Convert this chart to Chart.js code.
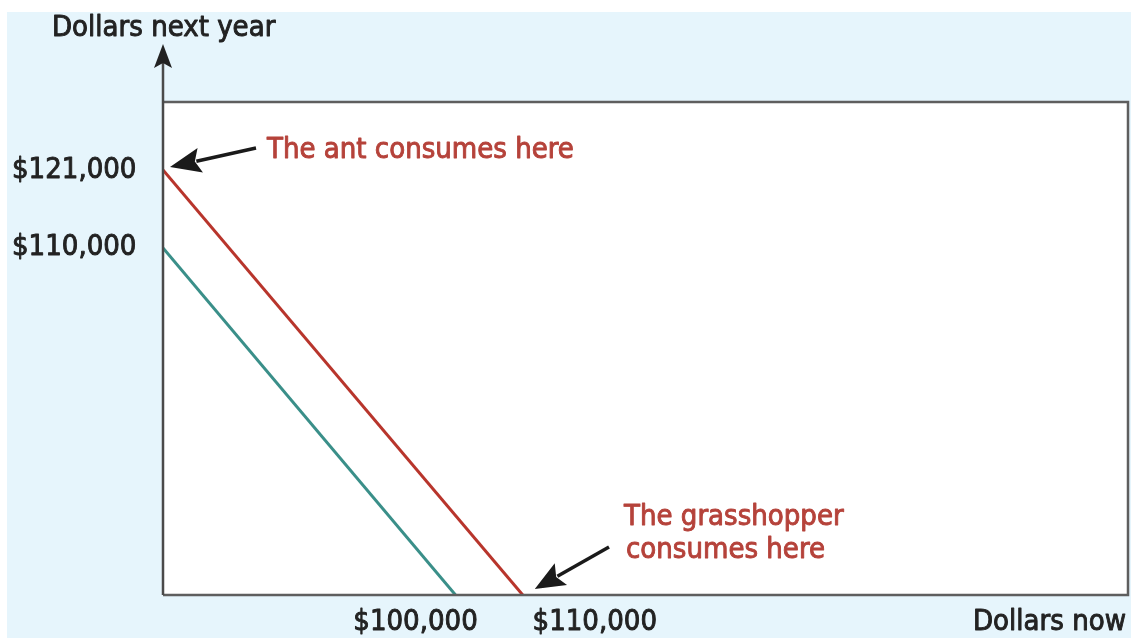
<!DOCTYPE html>
<html>
<head>
<meta charset="utf-8">
<script src="https://cdn.jsdelivr.net/npm/chart.js@4.4.1/dist/chart.umd.min.js"></script>
<style>
  html, body { margin: 0; padding: 0; background: #fff; }
  #wrap { width: 1131px; height: 638px; }
</style>
</head>
<body>
<div id="wrap"><canvas id="chart" width="1131" height="638"></canvas></div>
<script>
// axis ranges (the chart is schematic, origin is not zero)
const xMin = 56500, xMax = 200000;
const yMin = 61000, yMax = 130600;

const xTicks = [100000, 110000];
const yTicks = [110000, 121000];

// red budget line: 121,000 next year ... 110,000 now
const redX = [xMin, 110000];
const redY = [121000, yMin];
// teal budget line: 110,000 next year ... 100,000 now
const tealX = [xMin, 100000];
const tealY = [110000, yMin];

const FONT = '"DejaVu Sans Condensed", "Liberation Sans Narrow", Arial, sans-serif';
const fmt = v => '$' + v.toLocaleString('en-US');

function toPoints(xs, ys) {
    return xs.map((x, i) => ({ x: x, y: ys[i] }));
}

// text a bit heavier than the regular face
function label(ctx, text, x, y) {
    ctx.strokeStyle = ctx.fillStyle;
    ctx.lineWidth = 0.9;
    ctx.lineJoin = 'round';
    ctx.strokeText(text, x, y);
    ctx.fillText(text, x, y);
}

function arrow(ctx, x1, y1, x2, y2, headLen, headW) {
    const ang = Math.atan2(y2 - y1, x2 - x1);
    const c = Math.cos(ang), s = Math.sin(ang);
    const bx = x2 - headLen * c, by = y2 - headLen * s;
    ctx.beginPath();
    ctx.moveTo(x1, y1);
    ctx.lineTo(bx + 4 * c, by + 4 * s);
    ctx.stroke();
    ctx.beginPath();
    ctx.moveTo(x2, y2);
    ctx.lineTo(bx + headW / 2 * s, by - headW / 2 * c);
    ctx.lineTo(x2 - headLen * 0.82 * c, y2 - headLen * 0.82 * s);
    ctx.lineTo(bx - headW / 2 * s, by + headW / 2 * c);
    ctx.closePath();
    ctx.fill();
}

const decor = {
    id: 'decor',
    beforeDraw(chart) {
        const ctx = chart.ctx;
        const a = chart.chartArea;
        ctx.save();
        ctx.fillStyle = '#ffffff';
        ctx.fillRect(0, 0, chart.width, chart.height);
        ctx.fillStyle = '#e6f5fc';
        ctx.fillRect(7, 12, chart.width - 7, chart.height - 12);
        ctx.fillStyle = '#ffffff';
        ctx.fillRect(a.left, a.top, a.right - a.left, a.bottom - a.top);
        ctx.restore();
    },
    afterDatasetsDraw(chart) {
        const ctx = chart.ctx;
        const a = chart.chartArea;
        const xs = chart.scales.x, ys = chart.scales.y;
        ctx.save();

        // frame
        ctx.strokeStyle = '#5e5e5e';
        ctx.lineWidth = 2.5;
        ctx.beginPath();
        ctx.moveTo(a.left, a.top);
        ctx.lineTo(a.right, a.top);
        ctx.lineTo(a.right, a.bottom);
        ctx.lineTo(a.left, a.bottom);
        ctx.stroke();

        // y axis with arrow
        ctx.strokeStyle = '#4a4a4a';
        ctx.fillStyle = '#222';
        ctx.lineWidth = 2.5;
        ctx.beginPath();
        ctx.moveTo(a.left, a.bottom);
        ctx.lineTo(a.left, 62);
        ctx.stroke();
        ctx.beginPath();
        ctx.moveTo(a.left, 44);
        ctx.lineTo(a.left + 9, 68);
        ctx.lineTo(a.left, 63);
        ctx.lineTo(a.left - 9, 68);
        ctx.closePath();
        ctx.fill();

        // axis titles
        ctx.fillStyle = '#222';
        ctx.font = '29px ' + FONT;
        ctx.textBaseline = 'alphabetic';
        ctx.textAlign = 'left';
        label(ctx, 'Dollars next year', 52, 36);
        ctx.textAlign = 'right';
        label(ctx, 'Dollars now', 1126, 630);

        // tick labels
        ctx.textAlign = 'left';
        ctx.textBaseline = 'middle';
        yTicks.forEach(v => label(ctx, fmt(v), 12, ys.getPixelForValue(v)));
        const xOff = [-40, 72];
        ctx.textAlign = 'center';
        ctx.textBaseline = 'alphabetic';
        xTicks.forEach((v, i) => label(ctx, fmt(v), xs.getPixelForValue(v) + xOff[i], 630));

        // annotations
        ctx.fillStyle = '#b5423a';
        ctx.textAlign = 'left';
        label(ctx, 'The ant consumes here', 267, 158);
        label(ctx, 'The grasshopper', 624, 525);
        label(ctx, 'consumes here', 626, 558);

        ctx.strokeStyle = '#1a1a1a';
        ctx.fillStyle = '#1a1a1a';
        ctx.lineWidth = 3.5;
        ctx.lineCap = 'butt';
        const antX = xs.getPixelForValue(redX[0]), antY = ys.getPixelForValue(redY[0]);
        arrow(ctx, 256, 148, antX + 7, antY - 3, 31, 25);
        const ghX = xs.getPixelForValue(redX[1]), ghY = ys.getPixelForValue(redY[1]);
        arrow(ctx, 609, 547, ghX + 12, ghY - 6, 30, 25);

        ctx.restore();
    }
};

new Chart(document.getElementById('chart'), {
    type: 'scatter',
    data: {
        datasets: [{
            label: 'Ant',
            data: toPoints(redX, redY),
            showLine: true,
            borderColor: '#b8352c',
            borderWidth: 3,
            pointRadius: 0
        }, {
            label: 'Grasshopper',
            data: toPoints(tealX, tealY),
            showLine: true,
            borderColor: '#3a8f89',
            borderWidth: 3,
            pointRadius: 0
        }]
    },
    options: {
        responsive: false,
        animation: false,
        layout: { padding: { left: 163, top: 102, right: 3, bottom: 43 } },
        plugins: {
            legend: { display: false },
            tooltip: { enabled: false }
        },
        scales: {
            x: { type: 'linear', display: false, min: xMin, max: xMax },
            y: { type: 'linear', display: false, min: yMin, max: yMax }
        }
    },
    plugins: [decor]
});
</script>
</body>
</html>
